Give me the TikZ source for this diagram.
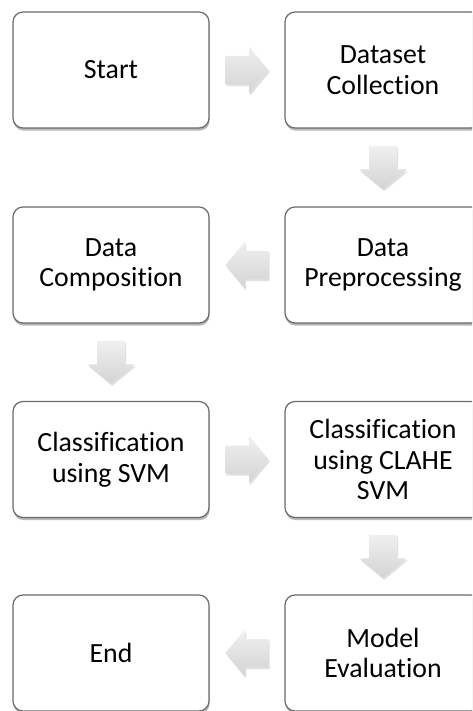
\documentclass[tikz,border=0pt]{standalone}
\usepackage{fontspec}
\setmainfont[Ligatures=NoCommon]{Carlito}
\usetikzlibrary{shadows,calc}
\begin{document}
\begin{tikzpicture}[x=1pt,y=-1pt,
  stepbox/.style={draw=black!58, line width=1.2pt, rounded corners=10pt, fill=white,
    minimum width=196pt, minimum height=116pt, align=center, inner sep=0pt,
    font=\fontsize{27.8}{30.5}\selectfont,
    drop shadow={shadow xshift=0.6pt, shadow yshift=-2.6pt, opacity=0.4, fill=black!70}},
  arrowfill/.style={top color=black!6, bottom color=black!17,
    drop shadow={shadow xshift=1.2pt, shadow yshift=-2.2pt, opacity=0.2, fill=black!60}},
  barrow/.pic={\path[arrowfill] (-21.5,-14) -- (2,-14) -- (2,-23.5) -- (21.5,0)
      -- (2,23.5) -- (2,14) -- (-21.5,14) -- cycle;}]
\useasboundingbox (0,0) rectangle (472,711);
\clip (0,0) rectangle (472,711);
\fill[white] (0,0) rectangle (472,711);

\node[stepbox] (start)   at (111,70)    {Start};
\node[stepbox] (dataset) at (383,70)    {Dataset\\Collection};
\node[stepbox] (prep)    at (383,265)   {Data\\Preprocessing};
\node[stepbox] (comp)    at (111,265)   {Data\\Composition};
\node[stepbox] (clsvm)   at (111,459.5) {Classification\\using SVM};
\node[stepbox] (clclahe) at (383,459.5) {Classification\\using CLAHE\\SVM};
\node[stepbox] (eval)    at (383,653)   {Model\\Evaluation};
\node[stepbox] (finish)  at (111,653)   {End};

\pic at ($(start.east)!0.5!(dataset.west)$) {barrow};
\pic[rotate=-90] at ($(dataset.south)!0.5!(prep.north)$) {barrow};
\pic[rotate=180] at ($(prep.west)!0.5!(comp.east)$) {barrow};
\pic[rotate=-90] at ($(comp.south)!0.5!(clsvm.north)$) {barrow};
\pic at ($(clsvm.east)!0.5!(clclahe.west)$) {barrow};
\pic[rotate=-90] at ($(clclahe.south)!0.5!(eval.north)$) {barrow};
\pic[rotate=180] at ($(eval.west)!0.5!(finish.east)$) {barrow};
\end{tikzpicture}
\end{document}
